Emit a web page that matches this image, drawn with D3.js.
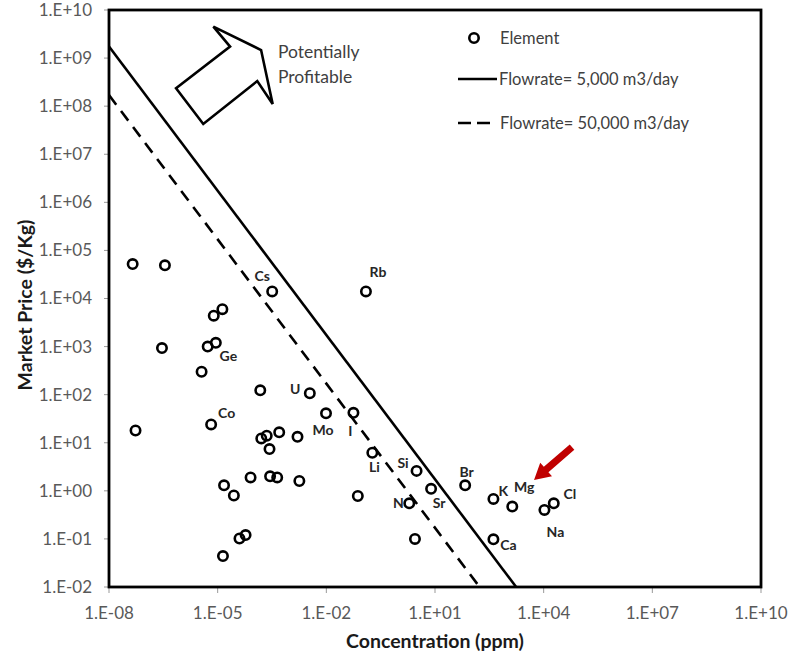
<!DOCTYPE html>
<html><head><meta charset="utf-8">
<script src="https://cdn.jsdelivr.net/npm/d3@7"></script>
<style>body{margin:0;background:#fff} text{font-family:Lato,"Open Sans",sans-serif}</style>
</head><body><svg id="c" width="807" height="657"></svg>
<script>
// ---- data ----
const elementNames  = ["","","","","Cs","Rb","","","","Ge","","","U","Mo","I","Co","","","","","","Li","Si","Sr","N","","","","","","","","","","","","Br","K","Mg","Na","Cl","Ca"];
const concentration = [4.5e-8,3.5e-7,2.9e-7,5.4e-8,3.2e-4,0.124,1.35e-5,7.8e-6,5.3e-6,8.9e-6,3.6e-6,1.5e-4,3.5e-3,9.8e-3,0.056,6.6e-6,1.6e-4,2.26e-4,5.0e-4,1.6e-3,2.7e-4,0.186,3.1,7.8,1.95,2.8,0.074,8.1e-5,2.8e-4,4.4e-4,1.8e-3,1.5e-5,2.8e-5,4.0e-5,5.9e-5,1.4e-5,68,410,1360,1.05e4,1.9e4,410];
const marketPrice   = [5.2e4,4.9e4,930,18,1.4e4,1.4e4,6.0e3,4.4e3,1.0e3,1.2e3,300,123,107,41,42,24,12.3,14,16.5,13.3,7.4,6.2,2.6,1.1,0.55,0.1,0.78,1.9,2.0,1.9,1.6,1.3,0.8,0.102,0.12,0.044,1.3,0.68,0.47,0.40,0.55,0.098];
const xTickValues = [1e-8,1e-5,1e-2,1e1,1e4,1e7,1e10];
const xTickLabels = ["1.E-08","1.E-05","1.E-02","1.E+01","1.E+04","1.E+07","1.E+10"];
const yTickValues = [1e-2,1e-1,1e0,1e1,1e2,1e3,1e4,1e5,1e6,1e7,1e8,1e9,1e10];
const yTickLabels = ["1.E-02","1.E-01","1.E+00","1.E+01","1.E+02","1.E+03","1.E+04","1.E+05","1.E+06","1.E+07","1.E+08","1.E+09","1.E+10"];
const flow5000  = [[1e-8,1.74e9],[1.74e3,1e-2]];
const flow50000 = [[1e-8,1.7e8],[1.7e2,1e-2]];
const profitArrow = [[7.6e-6,4.5e9],[1.58e-4,1.47e9],[3.3e-4,1.11e8],[1.24e-4,3.33e8],[4.0e-6,4.26e7],[7.1e-7,2.35e8],[2.2e-5,1.73e9]];
const redArrow = [[6.07e4,8.15],[5.42e3,1.68]];

// ---- label offsets (styling) ----
const labelOffset = {Cs:[-10,-15],Rb:[12,-19],Ge:[12.5,13],U:[-14.5,-4],Co:[15.5,-11.5],Mo:[-3,17],I:[-3,18],Li:[2,14],Si:[-13.5,-8],N:[-11,0],Sr:[8,14],Br:[1.5,-13],K:[10,-8],Mg:[12,-19],Cl:[16,-9],Na:[11,22],Ca:[15,6]};

const L=109,R=761,T=10,B=587;
const svg=d3.select("#c");
const x=d3.scaleLog().domain([1e-8,1e10]).range([L,R]);
const y=d3.scaleLog().domain([1e-2,1e10]).range([B,T]);

// ticks
svg.append("g").selectAll("line").data(yTickValues).join("line")
  .attr("x1",L-5).attr("x2",L).attr("y1",d=>y(d)).attr("y2",d=>y(d)).attr("stroke","#999").attr("stroke-width",1);
svg.append("g").selectAll("line").data(xTickValues).join("line")
  .attr("y1",B).attr("y2",B+6).attr("x1",d=>x(d)).attr("x2",d=>x(d)).attr("stroke","#999").attr("stroke-width",1);
svg.append("g").selectAll("text").data(yTickValues).join("text")
  .attr("x",92).attr("y",d=>y(d)).attr("dy","0.35em").attr("text-anchor","end")
  .attr("font-size",17).attr("fill","#595959").text((d,i)=>yTickLabels[i]);
svg.append("g").selectAll("text").data(xTickValues).join("text")
  .attr("x",d=>x(d)).attr("y",613).attr("dy","0.35em").attr("text-anchor","middle")
  .attr("font-size",17).attr("fill","#595959").text((d,i)=>xTickLabels[i]);

// titles
svg.append("text").attr("x",(L+R)/2).attr("y",641).attr("dy","0.35em").attr("text-anchor","middle")
  .attr("font-size",19.5).attr("font-weight","bold").attr("fill","#1a1a1a").text("Concentration (ppm)");
svg.append("text").attr("transform","translate(25,305) rotate(-90)").attr("dy","0.35em").attr("text-anchor","middle")
  .attr("font-size",19.5).attr("font-weight","bold").attr("fill","#1a1a1a").text("Market Price ($/Kg)");

// lines
const line=d3.line().x(d=>x(d[0])).y(d=>y(d[1]));
svg.append("path").attr("d",line(flow5000)).attr("fill","none").attr("stroke","#000").attr("stroke-width",2.6);
svg.append("path").attr("d",line(flow50000)).attr("fill","none").attr("stroke","#000").attr("stroke-width",2.6).attr("stroke-dasharray","12,8");

// profit arrow
svg.append("path").attr("d",line(profitArrow)+"Z").attr("fill","#fff").attr("stroke","#000").attr("stroke-width",2.6).attr("stroke-linejoin","miter");
svg.append("text").attr("x",x(4.6e-4)).attr("y",y(1e9)).attr("font-size",17.5).attr("fill","#404040").text("Potentially");
svg.append("text").attr("x",x(4.6e-4)).attr("y",y(1e9)+25).attr("font-size",17.5).attr("fill","#404040").text("Profitable");

// points
const pts=concentration.map((c,i)=>({c,p:marketPrice[i],n:elementNames[i]}));
svg.append("g").selectAll("circle").data(pts).join("circle")
  .attr("cx",d=>x(d.c)).attr("cy",d=>y(d.p)).attr("r",4.7)
  .attr("fill","none").attr("stroke","#000").attr("stroke-width",2.6);
svg.append("g").selectAll("text").data(pts.filter(d=>d.n)).join("text")
  .attr("x",d=>x(d.c)+labelOffset[d.n][0]).attr("y",d=>y(d.p)+labelOffset[d.n][1])
  .attr("dy","0.35em").attr("text-anchor","middle").attr("font-size",14).attr("font-weight","bold")
  .attr("fill","#262626").text(d=>d.n);

// red arrow
{
  const t=[x(redArrow[0][0]),y(redArrow[0][1])], h=[x(redArrow[1][0]),y(redArrow[1][1])];
  const dx=h[0]-t[0], dy=h[1]-t[1], len=Math.hypot(dx,dy), u=[dx/len,dy/len], n=[-u[1],u[0]];
  const sw=3.5, hw=9, hl=16, b=[h[0]-u[0]*hl,h[1]-u[1]*hl];
  const P=[[t[0]+n[0]*sw,t[1]+n[1]*sw],[b[0]+n[0]*sw,b[1]+n[1]*sw],[b[0]+n[0]*hw,b[1]+n[1]*hw],h,
           [b[0]-n[0]*hw,b[1]-n[1]*hw],[b[0]-n[0]*sw,b[1]-n[1]*sw],[t[0]-n[0]*sw,t[1]-n[1]*sw]];
  svg.append("path").attr("d",d3.line()(P)+"Z").attr("fill","#c00000");
}

// legend
const lg=svg.append("g");
lg.append("circle").attr("cx",474).attr("cy",38).attr("r",4.7).attr("fill","none").attr("stroke","#000").attr("stroke-width",2.6);
lg.append("text").attr("x",500).attr("y",38).attr("dy","0.35em").attr("font-size",16.5).attr("fill","#404040").text("Element");
lg.append("line").attr("x1",458).attr("x2",497).attr("y1",79).attr("y2",79).attr("stroke","#000").attr("stroke-width",2.6);
lg.append("text").attr("x",499).attr("y",79).attr("dy","0.35em").attr("font-size",16.5).attr("fill","#404040").text("Flowrate= 5,000 m3/day");
lg.append("line").attr("x1",458).attr("x2",491).attr("y1",123).attr("y2",123).attr("stroke","#000").attr("stroke-width",2.6).attr("stroke-dasharray","13,6");
lg.append("text").attr("x",500).attr("y",123).attr("dy","0.35em").attr("font-size",16.5).attr("fill","#404040").text("Flowrate= 50,000 m3/day");

// frame
svg.append("rect").attr("x",L).attr("y",T).attr("width",R-L).attr("height",B-T).attr("fill","none").attr("stroke","#000").attr("stroke-width",2.8);
</script></body></html>
